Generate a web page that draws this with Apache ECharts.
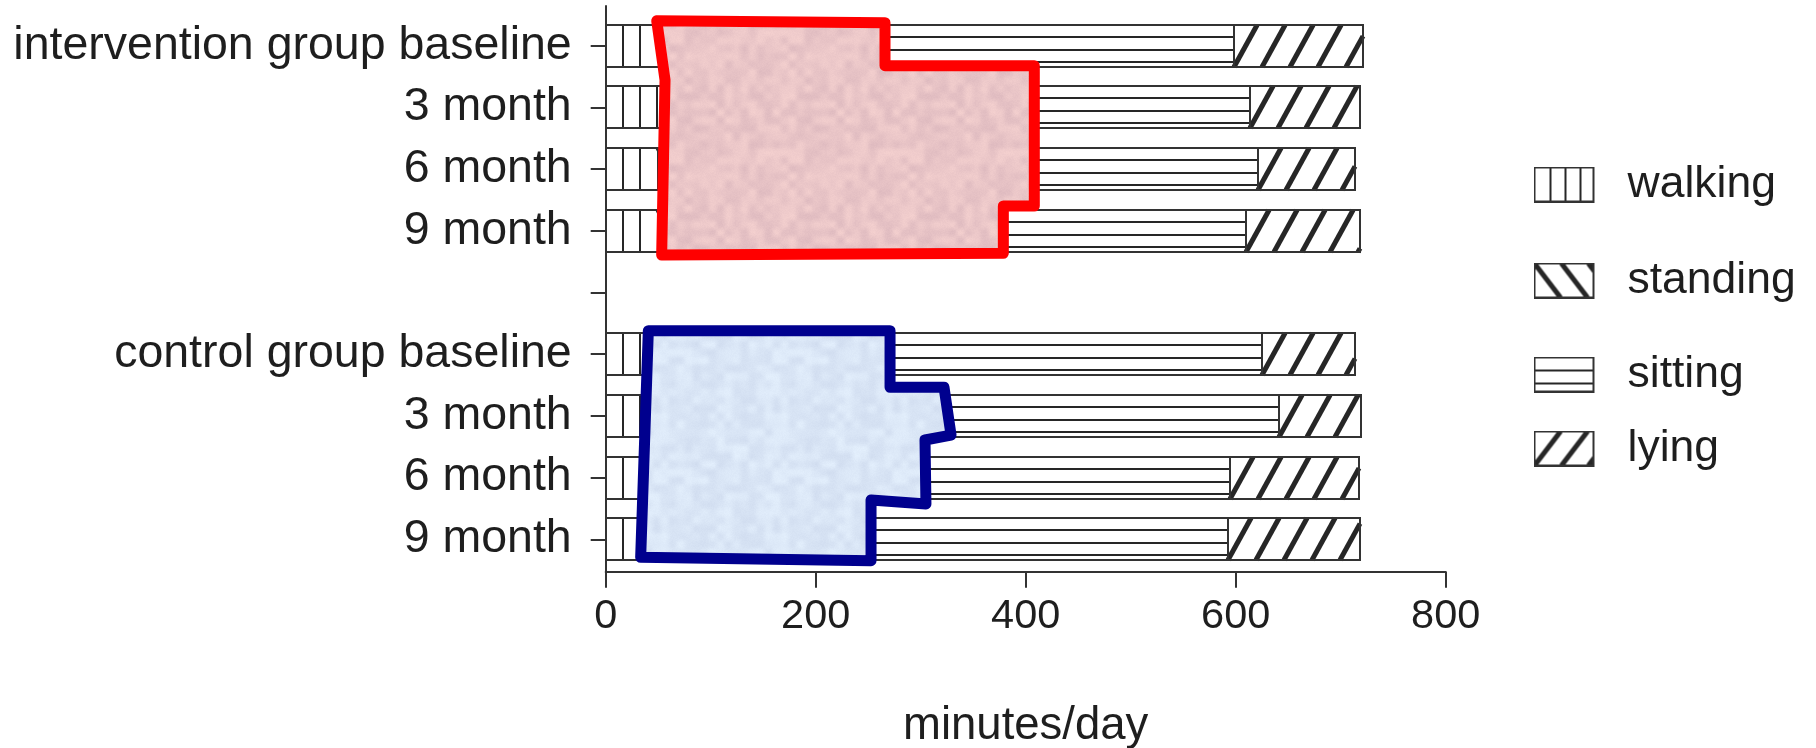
<!DOCTYPE html>
<html>
<head>
<meta charset="utf-8">
<script src="https://cdn.jsdelivr.net/npm/echarts@6/dist/echarts.min.js"></script>
<style>
  html, body { margin: 0; padding: 0; background: #ffffff; }
  #chart { width: 1816px; height: 748px; }
</style>
</head>
<body>
<div id="chart"></div>
<script>
// Rows of the chart (index 4 is the spacer between the two groups)
const categories = ['intervention group baseline', '3 month', '6 month', '9 month', '',
                    'control group baseline', '3 month', '6 month', '9 month'];
const barRows = [0, 1, 2, 3, 5, 6, 7, 8];

// Minutes per day for each activity, one value per bar row
const walking  = [52, 55, 50, 50, 38, 38, 34, 32];
const standing = [213, 350, 355, 326, 232, 284, 270, 219];
const sitting  = [333, 209, 216, 234, 355, 319, 291, 342];
const lying    = [123, 104, 93, 108, 89, 78, 122, 125];

const xTicks = [0, 200, 400, 600, 800];

// Outlines laid over the standing segments: vertices as (minutes, row position)
const interventionOutlineMinutes = [48.6, 266.0, 266.0, 408.2, 408.2, 378.7, 378.7, 53.3, 56.5];
const interventionOutlineRows    = [-0.405, -0.373, 0.324, 0.324, 2.598, 2.598, 3.365, 3.392, 0.556];
const controlOutlineMinutes = [40.6, 270.8, 270.8, 322.2, 328.9, 304.1, 305.0, 252.7, 252.7, 33.3];
const controlOutlineRows    = [4.619, 4.619, 5.536, 5.536, 6.310, 6.391, 7.428, 7.363, 8.347, 8.292];

const FONT = "'Liberation Sans', Arial, Helvetica, sans-serif";
const INK = '#262626';

const activities = [
  { name: 'walking',  values: walking },
  { name: 'standing', values: standing },
  { name: 'sitting',  values: sitting },
  { name: 'lying',    values: lying }
];

// Hatch lines inside one bar segment
function hatchLines(kind, x, y, w, h) {
  const out = [];
  if (kind === 'walking') {
    for (let lx = x + 17; lx < x + w - 3; lx += 17) out.push([lx, y, lx, y + h, 2]);
  } else if (kind === 'sitting') {
    for (let k = 1; k * 12.3 < h - 3; k++) {
      const ly = Math.round(y + k * 12.3);
      out.push([x, ly, x + w, ly, 2]);
    }
  } else {
    const dx = 0.55 * h, step = 28;
    const forward = kind === 'lying';
    for (let xb = x - Math.ceil(dx / step) * step; xb < x + w; xb += step) {
      const s0 = Math.max(0, (x - xb) / dx);
      const s1 = Math.min(1, (x + w - xb) / dx);
      if (s1 <= s0) continue;
      const X = s => xb + s * dx;
      const Y = s => forward ? y + h - s * h : y + s * h;
      out.push([X(s0), Y(s0), X(s1), Y(s1), 5]);
    }
  }
  return out;
}

function makeBarRenderer(kind) {
  return function (params, api) {
    const row = api.value(2);
    const a = api.coord([api.value(0), row]);
    const b = api.coord([api.value(1), row]);
    const band = api.size([0, 1])[1];
    const h = Math.round(band * 0.676);
    const x = Math.round(a[0]);
    const w = Math.round(b[0]) - x;
    const y = Math.round(a[1] - h / 2);
    const children = [{ type: 'rect', shape: { x, y, width: w, height: h }, style: { fill: '#ffffff' } }];
    hatchLines(kind, x, y, w, h).forEach(l => {
      children.push({
        type: 'line',
        shape: { x1: l[0], y1: l[1], x2: l[2], y2: l[3] },
        style: { stroke: INK, lineWidth: l[4] }
      });
    });
    children.push({
      type: 'rect', shape: { x, y, width: w, height: h },
      style: { fill: null, stroke: '#333333', lineWidth: 2 }
    });
    return { type: 'group', children };
  };
}

// Legend swatches drawn with the same hatching
function legendIcon(kind) {
  const c = document.createElement('canvas');
  c.width = 89; c.height = 36;
  const g = c.getContext('2d');
  const ox = 1, oy = 1, bw = 59, bh = 34;
  g.fillStyle = '#ffffff';
  g.fillRect(ox, oy, bw, bh);
  g.strokeStyle = INK;
  g.save();
  g.beginPath(); g.rect(ox, oy, bw, bh); g.clip();
  if (kind === 'walking') {
    g.lineWidth = 2;
    [16, 31, 46].forEach(px => { g.beginPath(); g.moveTo(ox + px, oy); g.lineTo(ox + px, oy + bh); g.stroke(); });
  } else if (kind === 'sitting') {
    g.lineWidth = 2;
    [13, 26].forEach(py => { g.beginPath(); g.moveTo(ox, oy + py); g.lineTo(ox + bw, oy + py); g.stroke(); });
  } else {
    g.lineWidth = 5;
    const dx = 26;
    [-27, 0, 27, 54].forEach(s => {
      g.beginPath();
      if (kind === 'standing') { g.moveTo(ox + s, oy); g.lineTo(ox + s + dx, oy + bh); }
      else { g.moveTo(ox + s, oy + bh); g.lineTo(ox + s + dx, oy); }
      g.stroke();
    });
  }
  g.restore();
  g.lineWidth = 2;
  g.strokeStyle = '#333333';
  g.strokeRect(ox, oy, bw, bh);
  return 'image://' + c.toDataURL();
}

// Mottled paper-like fill for the outlines (deterministic hash noise)
function hash2(ix, iy, seed) {
  let n = Math.imul(ix, 374761393) + Math.imul(iy, 668265263) + Math.imul(seed, 1442695041);
  n = Math.imul(n ^ (n >>> 13), 1274126177);
  n = n ^ (n >>> 16);
  return (n >>> 0) / 4294967295;
}
function paperTexture(base, amp, seed) {
  const size = 120, cell = 8, cells = size / cell;
  const c = document.createElement('canvas');
  c.width = size; c.height = size;
  const g = c.getContext('2d');
  const img = g.createImageData(size, size);
  const smooth = t => t * t * (3 - 2 * t);
  for (let py = 0; py < size; py++) {
    for (let px = 0; px < size; px++) {
      const gx = px / cell, gy = py / cell;
      const x0 = Math.floor(gx), y0 = Math.floor(gy);
      const fx = smooth(gx - x0), fy = smooth(gy - y0);
      const v = (ix, iy) => hash2(ix % cells, iy % cells, seed);
      const top = v(x0, y0) * (1 - fx) + v(x0 + 1, y0) * fx;
      const bot = v(x0, y0 + 1) * (1 - fx) + v(x0 + 1, y0 + 1) * fx;
      const coarse = top * (1 - fy) + bot * fy;
      const fine = hash2(px, py, seed + 7);
      const d = ((coarse - 0.5) * 0.8 + (fine - 0.5) * 0.2) * 2 * amp;
      const k = (py * size + px) * 4;
      img.data[k] = Math.max(0, Math.min(255, base[0] + d));
      img.data[k + 1] = Math.max(0, Math.min(255, base[1] + d));
      img.data[k + 2] = Math.max(0, Math.min(255, base[2] + d * 0.7));
      img.data[k + 3] = 255;
    }
  }
  g.putImageData(img, 0, 0);
  return { image: c, repeat: 'repeat' };
}

const runningTotal = barRows.map(() => 0);
const barSeries = activities.map(act => {
  const data = barRows.map((row, i) => {
    const start = runningTotal[i];
    runningTotal[i] += act.values[i];
    return [start, runningTotal[i], row];
  });
  return {
    type: 'custom', name: act.name,
    xAxisIndex: 0, yAxisIndex: 0,
    data, encode: { x: [0, 1], y: 2 },
    renderItem: makeBarRenderer(act.name),
    z: 2, silent: true
  };
});

function outlineSeries(name, minutes, rows, stroke, fill) {
  return {
    type: 'custom', name,
    xAxisIndex: 0, yAxisIndex: 1,
    data: minutes.map((m, i) => [m, rows[i]]),
    encode: { x: 0, y: 1 },
    z: 10, clip: false, silent: true,
    renderItem(params, api) {
      if (params.dataIndex !== 0) return null;
      const points = minutes.map((m, i) => api.coord([m, rows[i]]));
      return {
        type: 'polygon', shape: { points },
        style: { fill, stroke, lineWidth: 11, lineJoin: 'round' }
      };
    }
  };
}

const legendTops = [157, 253, 347, 421];

const chart = echarts.init(document.getElementById('chart'), null, { renderer: 'canvas' });
chart.setOption({
  backgroundColor: '#ffffff',
  animation: false,
  textStyle: { fontFamily: FONT },
  grid: [
    { left: 605.7, top: 14.85, width: 840, height: 555.3, containLabel: false, outerBoundsMode: 'none' },
    { left: 605.7, top: 6, width: 840, height: 565.7, containLabel: false, outerBoundsMode: 'none' }
  ],
  xAxis: [
    { gridIndex: 0, type: 'value', min: xTicks[0], max: xTicks[xTicks.length - 1], show: false },
    {
      gridIndex: 1, type: 'value',
      min: xTicks[0], max: xTicks[xTicks.length - 1], interval: xTicks[1] - xTicks[0],
      axisLine: { show: true, lineStyle: { color: '#333333', width: 2 } },
      axisTick: { show: true, length: 16, lineStyle: { color: '#333333', width: 2 } },
      axisLabel: { margin: 24, fontSize: 41.5, color: '#1e1e1e', fontFamily: FONT },
      splitLine: { show: false },
      name: 'minutes/day', nameLocation: 'middle', nameGap: 132,
      nameTextStyle: { fontSize: 45.5, color: '#1e1e1e', fontFamily: FONT }
    }
  ],
  yAxis: [
    {
      gridIndex: 0, type: 'category', inverse: true, data: categories,
      axisLine: { show: false },
      axisTick: { show: true, alignWithLabel: true, interval: 0, length: 15, lineStyle: { color: '#333333', width: 2 } },
      axisLabel: { interval: 0, margin: 34, fontSize: 46.5, color: '#1e1e1e', fontFamily: FONT },
      splitLine: { show: false }
    },
    { gridIndex: 0, type: 'value', inverse: true, min: -0.5, max: categories.length - 0.5, show: false },
    {
      gridIndex: 1, type: 'value', min: 0, max: 1,
      axisLine: { show: true, lineStyle: { color: '#333333', width: 2 } },
      axisTick: { show: false }, axisLabel: { show: false }, splitLine: { show: false }
    }
  ],
  legend: activities.map((act, i) => ({
    left: 1528.5, top: legendTops[i], orient: 'vertical',
    itemWidth: 89, itemHeight: 36, selectedMode: false,
    data: [{ name: act.name, icon: legendIcon(act.name) }],
    textStyle: { fontSize: 44.5, color: '#1e1e1e', fontFamily: FONT }
  })),
  series: barSeries.concat([
    outlineSeries('intervention outline', interventionOutlineMinutes, interventionOutlineRows,
                  '#ff0000', paperTexture([233, 197, 199], 12, 3)),
    outlineSeries('control outline', controlOutlineMinutes, controlOutlineRows,
                  '#00008e', paperTexture([218, 230, 246], 10, 11))
  ])
});
</script>
</body>
</html>
